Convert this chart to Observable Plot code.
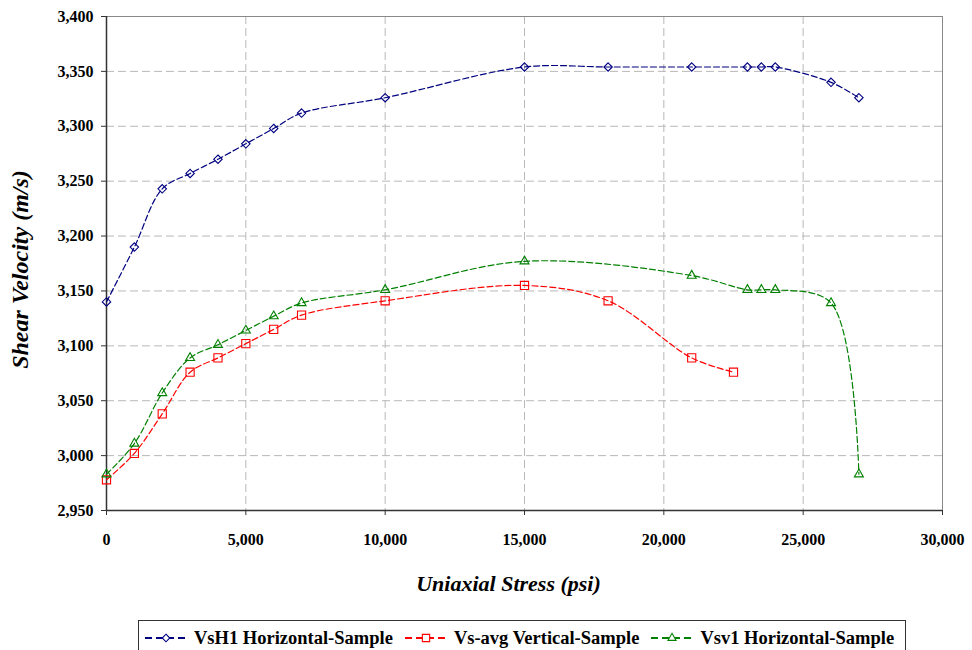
<!DOCTYPE html>
<html>
<head>
<meta charset="utf-8">
<script src="https://cdn.jsdelivr.net/npm/d3@7"></script>
<script src="https://cdn.jsdelivr.net/npm/@observablehq/plot@0.6"></script>
<style>
  body { margin: 0; background: #fff; }
  #chart { position: relative; width: 972px; height: 650px; overflow: hidden; }
  #legend { position: absolute; left: 138px; top: 620px; width: 768px; height: 36px; border: 1px solid #333;
            display: flex; align-items: center; font-family: "Liberation Serif", serif; font-weight: bold; font-size: 18.5px; color: #000; box-sizing: border-box; padding-left: 6px; }
  .item { display: flex; align-items: center; margin-right: 12px; white-space: nowrap; }
  .item svg { margin-right: 7px; }
</style>
</head>
<body>
<div id="chart"></div>
<script>
// Stress (psi) and shear velocities (m/s)
const seriesNames = ["VsH1 Horizontal-Sample", "Vs-avg Vertical-Sample", "Vsv1 Horizontal-Sample"];
const stressH1 = [0, 1000, 2000, 3000, 4000, 5000, 6000, 7000, 10000, 15000, 18000, 21000, 23000, 23500, 24000, 26000, 27000];
const velH1    = [3140, 3190, 3243, 3257, 3270, 3284, 3298, 3312, 3326, 3354, 3354, 3354, 3354, 3354, 3354, 3340, 3326];
const stressAvg = [0, 1000, 2000, 3000, 4000, 5000, 6000, 7000, 10000, 15000, 18000, 21000, 22500];
const velAvg    = [2978, 3002, 3038, 3076, 3089, 3102, 3115, 3128, 3141, 3155, 3141, 3089, 3076];
const stressV1 = [0, 1000, 2000, 3000, 4000, 5000, 6000, 7000, 10000, 15000, 21000, 23000, 23500, 24000, 26000, 27000];
const velV1    = [2983, 3011, 3057, 3089, 3101, 3114, 3127, 3139, 3151, 3177, 3164, 3151, 3151, 3151, 3139, 2983];
const xTicks = [0, 5000, 10000, 15000, 20000, 25000, 30000];
const yTicks = [2950, 3000, 3050, 3100, 3150, 3200, 3250, 3300, 3350, 3400];

const colors = ["#000080", "#ff0000", "#008000"];
const symbols = ["diamond2", "square2", "triangle2"];
const radii = [3.8, 5.2, 4.3];

const toRows = (xs, ys) => xs.map((x, i) => ({x, y: ys[i]}));
const series = [toRows(stressH1, velH1), toRows(stressAvg, velAvg), toRows(stressV1, velV1)];

const serif = "'Liberation Serif', serif";
const marks = [
  Plot.gridX(xTicks.slice(1, -1), {stroke: "#b8b8b8", strokeOpacity: 1, strokeDasharray: "8,4"}),
  Plot.gridY(yTicks.slice(1, -1), {stroke: "#b8b8b8", strokeOpacity: 1, strokeDasharray: "8,4"}),
  Plot.frame({stroke: "#888"}),
  Plot.ruleX([0], {stroke: "#333", strokeWidth: 1.5}),
  Plot.ruleY([2950], {stroke: "#333", strokeWidth: 1.5}),
  Plot.axisX({ticks: xTicks, tickFormat: d3.format(","), tickSize: 5, tickPadding: 18, label: null,
               fontWeight: "bold", fill: "#000", stroke: "#333"}),
  Plot.axisY({ticks: yTicks, tickFormat: d3.format(","), tickSize: 5, tickPadding: 8, label: null,
               fontWeight: "bold", fill: "#000", stroke: "#333"})
];
series.forEach((rows, i) => {
  marks.push(Plot.line(rows, {x: "x", y: "y", stroke: colors[i], strokeWidth: 1.2, strokeDasharray: "6,3", curve: "catmull-rom"}));
  marks.push(Plot.dot(rows, {x: "x", y: "y", symbol: () => symbols[i], r: radii[i], stroke: colors[i], fill: "none", strokeWidth: 1.1}));
});
marks.push(Plot.text(["Uniaxial Stress (psi)"], {frameAnchor: "bottom", dx: -16, dy: 73, textAnchor: "middle", lineAnchor: "middle",
  fontSize: 22, fontStyle: "italic", fontWeight: "bold", fontFamily: serif, fill: "#000"}));
marks.push(Plot.text(["Shear Velocity (m/s)"], {frameAnchor: "left", dx: -86, dy: 6, rotate: -90, textAnchor: "middle", lineAnchor: "middle",
  fontSize: 24, fontStyle: "italic", fontWeight: "bold", fontFamily: serif, fill: "#000"}));

const chart = Plot.plot({
  width: 972, height: 620,
  marginLeft: 106, marginRight: 30, marginTop: 16, marginBottom: 110,
  x: {domain: [0, 30000]},
  y: {domain: [2950, 3400]},
  style: {background: "#fff", overflow: "visible", fontFamily: serif, fontSize: "16px"},
  marks
});
const container = document.getElementById("chart");
container.appendChild(chart);

// legend
const legend = document.createElement("div");
legend.id = "legend";
const d3sym = [d3.symbolDiamond2, d3.symbolSquare2, d3.symbolTriangle2];
seriesNames.forEach((name, i) => {
  const item = document.createElement("div");
  item.className = "item";
  const s = d3.create("svg").attr("width", 42).attr("height", 16);
  s.append("line").attr("x1", 0).attr("x2", 42).attr("y1", 8).attr("y2", 8)
    .attr("stroke", colors[i]).attr("stroke-width", 2.2).attr("stroke-dasharray", "7,4");
  s.append("path").attr("d", d3.symbol(d3sym[i], Math.PI * radii[i] * radii[i] * 0.8)())
    .attr("transform", "translate(21,8)").attr("fill", "#fff").attr("stroke", colors[i]).attr("stroke-width", 1.1);
  item.appendChild(s.node());
  const t = document.createElement("span");
  t.textContent = name;
  item.appendChild(t);
  legend.appendChild(item);
});
container.appendChild(legend);
</script>
</body>
</html>
